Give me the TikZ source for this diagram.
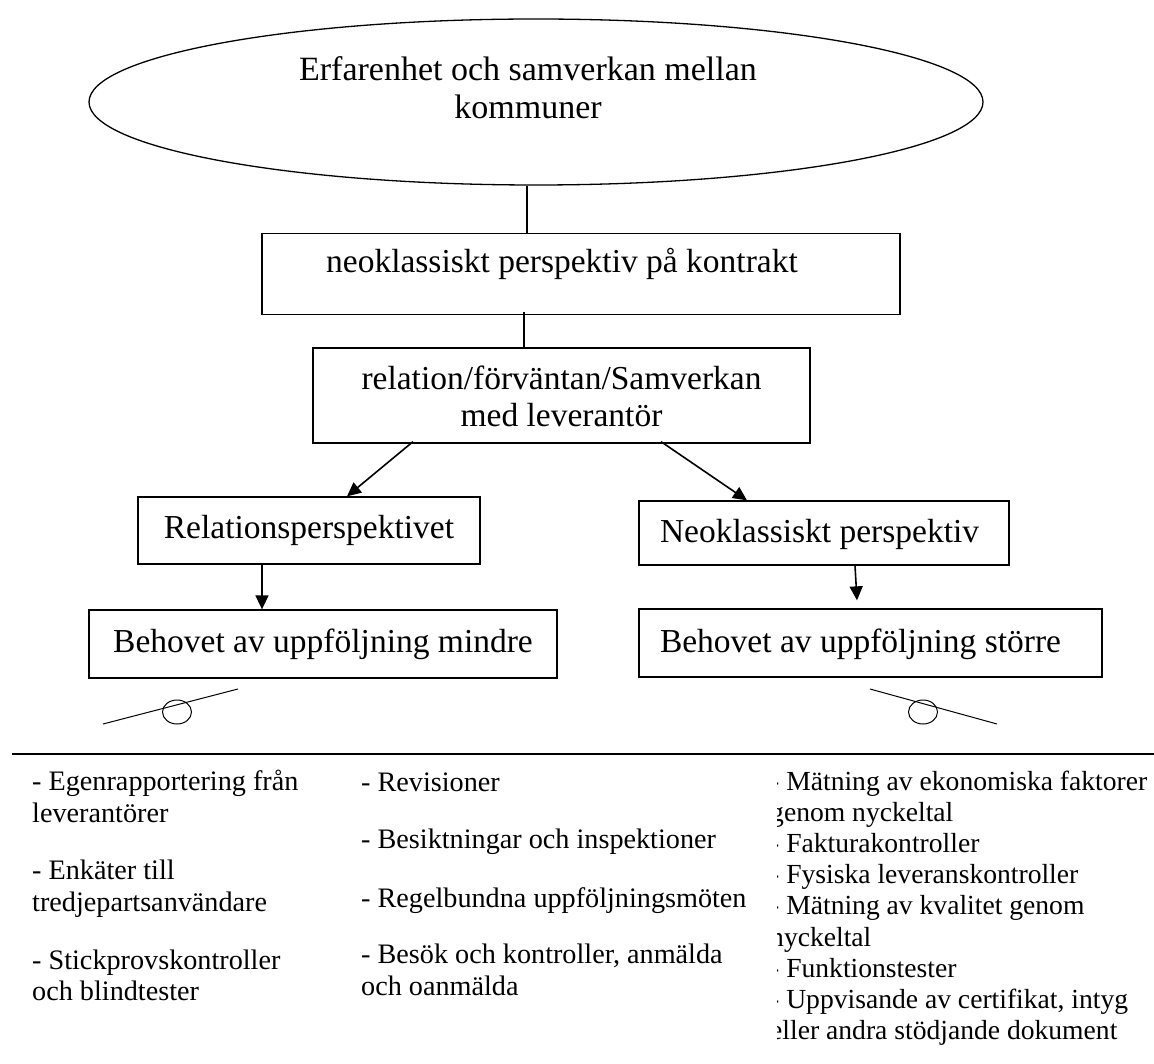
\documentclass[tikz,border=0pt]{standalone}
\usepackage{fontspec}
\setmainfont{Liberation Serif}
\usetikzlibrary{arrows.meta,shapes.geometric}
\newcommand\boxfont{\fontsize{33.5}{37}\selectfont}
\newcommand\ellfont{\fontsize{34}{38}\selectfont}
\newcommand\colfont{\fontsize{28.2}{31.2}\selectfont}
\newcommand\colfontc{\fontsize{27.6}{31.2}\selectfont}
\begin{document}
\begin{tikzpicture}[x=1pt,y=-1pt,
  box/.style={draw, line width=1.3pt, inner xsep=0pt, inner ysep=0pt, font=\boxfont, text height=24pt},
  conn/.style={line width=1.6pt},
  arr/.style={conn, -{Triangle[length=14pt,width=13pt]}},
  lever/.style={line width=1pt},
  col/.style={anchor=base west, inner sep=0pt, font=\colfont},
  colc/.style={col, font=\colfontc}]
\useasboundingbox (0,0) rectangle (1154,1064);

% top ellipse
\node[box, ellipse, minimum width=894pt, minimum height=166pt, font=\ellfont,
      text height=62pt, text depth=28pt] (ell) at (536,102)
  {\begin{tabular}[b]{@{}c@{}}Erfarenhet och samverkan mellan\\kommuner\end{tabular}\hspace*{16pt}};

% boxes
\node[box, minimum width=638pt, minimum height=81pt, text depth=26pt] (r1) at (581,274)
  {neoklassiskt perspektiv på kontrakt\hspace*{38pt}};
\node[box, minimum width=497pt, minimum height=95pt, text height=70pt, text depth=7pt] (r2) at (561.5,395.5)
  {\begin{tabular}[b]{@{}c@{}}relation/förväntan/Samverkan\\med leverantör\end{tabular}};
\node[box, minimum width=342pt, minimum height=67pt, text depth=9pt] (rel) at (309,530.5)
  {Relationsperspektivet};
\node[box, minimum width=370pt, minimum height=64pt, text depth=6pt] (nk) at (824,533)
  {\makebox[328pt][l]{Neoklassiskt perspektiv}};
\node[box, minimum width=468pt, minimum height=68pt, text depth=8pt] (mi) at (323,644)
  {Behovet av uppföljning mindre};
\node[box, minimum width=463pt, minimum height=68pt, text depth=6pt] (st) at (870.5,643)
  {\makebox[421pt][l]{Behovet av uppföljning större}};

% connectors
\draw[conn] ([xshift=-9pt]ell.south) -- ([xshift=-54pt]r1.north);
\draw[conn] ([xshift=-57pt,yshift=3pt]r1.south) -- ([xshift=-37.5pt]r2.north);
\draw[arr] ([xshift=-148.5pt,yshift=2pt]r2.south) -- ([xshift=38pt]rel.north);
\draw[arr] ([xshift=99.5pt,yshift=2pt]r2.south) -- ([xshift=-77pt]nk.north);
\draw[arr] ([xshift=-47pt]rel.south) -- ([xshift=-61pt]mi.north);
\draw[arr] ([xshift=31pt]nk.south) -- ([xshift=-13.5pt,yshift=8pt]st.north);

% levers
\draw[lever] (103,724) -- (238,689);
\draw[lever] (177,712) ellipse [x radius=14.5pt, y radius=12pt];
\draw[lever] (870,689) -- (997,724);
\draw[lever] (923,712) ellipse [x radius=14.5pt, y radius=12pt];

% separator
\draw[line width=2pt] (12,754) -- (1154,754);

% column 1
\node[col] (a1) at (32,790) {- Egenrapportering från};
\node[col] (a2) at (32,822) {leverantörer};
\node[col] (a3) at (32,879) {- Enkäter till};
\node[col] (a4) at (32,911) {tredjepartsanvändare};
\node[col] (a5) at (32,969) {- Stickprovskontroller};
\node[col] (a6) at (32,1000) {och blindtester};

% column 2
\node[col] (b1) at (361,791) {- Revisioner};
\node[col] (b2) at (361,848) {- Besiktningar och inspektioner};
\node[col] (b3) at (361,907) {- Regelbundna uppföljningsmöten};
\node[col] (b4) at (361,963) {- Besök och kontroller, anmälda};
\node[col] (b5) at (361,995) {och oanmälda};

% column 3 (clipped on the left)
\begin{scope}
\clip (777,760) rectangle (1154,1064);
\node[colc] (c1) at (770,790) {- Mätning av ekonomiska faktorer};
\node[colc] (c2) at (770,821.2) {genom nyckeltal};
\node[colc] (c3) at (770,852.4) {- Fakturakontroller};
\node[colc] (c4) at (770,883.6) {- Fysiska leveranskontroller};
\node[colc] (c5) at (770,914.8) {- Mätning av kvalitet genom};
\node[colc] (c6) at (770,946) {nyckeltal};
\node[colc] (c7) at (770,977.2) {- Funktionstester};
\node[colc] (c8) at (770,1008.4) {- Uppvisande av certifikat, intyg};
\node[colc] (c9) at (770,1039.6) {eller andra stödjande dokument};
\end{scope}
\end{tikzpicture}
\end{document}
